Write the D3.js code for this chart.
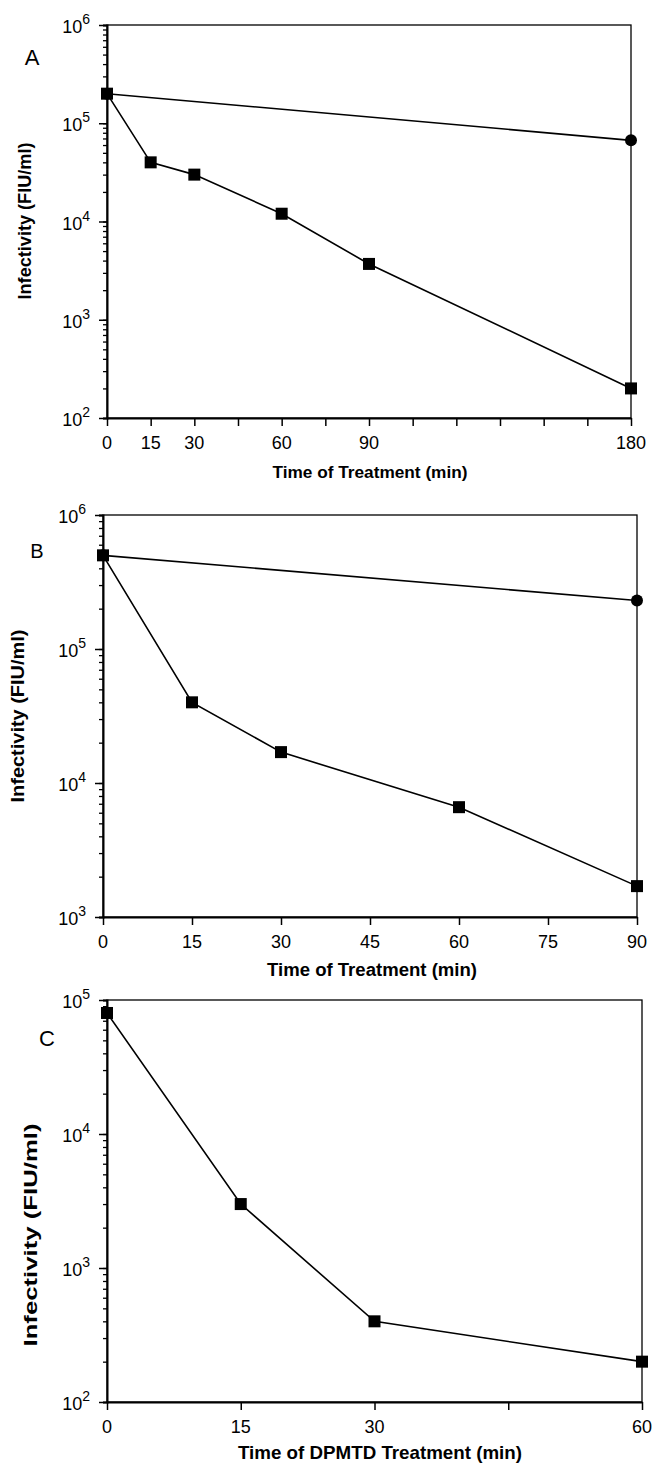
<!DOCTYPE html>
<html>
<head>
<meta charset="utf-8">
<script src="https://cdn.jsdelivr.net/npm/d3@7"></script>
<style>
  body { margin: 0; background: #fff; }
  svg { display: block; }
  text { font-family: "Liberation Sans", Arial, Helvetica, sans-serif; fill: #000; }
</style>
</head>
<body>
<svg id="chart" width="655" height="1467"></svg>
<script>
// Panel A data
const timesA = [0, 15, 30, 60, 90, 180];
const squaresA = [2e5, 4e4, 3e4, 1.2e4, 3.7e3, 200];
const circleTimesA = [0, 180];
const circlesA = [2e5, 6.7e4];
const xTicksA = [0, 15, 30, 45, 60, 75, 90, 105, 120, 135, 150, 165, 180];
const xLabelsA = [0, 15, 30, 60, 90, 180];
const yDomainA = [1e2, 1e6];

// Panel B data
const timesB = [0, 15, 30, 60, 90];
const squaresB = [5e5, 4e4, 1.7e4, 6.6e3, 1.7e3];
const circleTimesB = [0, 90];
const circlesB = [5e5, 2.3e5];
const xTicksB = [0, 15, 30, 45, 60, 75, 90];
const xLabelsB = [0, 15, 30, 45, 60, 75, 90];
const yDomainB = [1e3, 1e6];

// Panel C data
const timesC = [0, 15, 30, 60];
const squaresC = [8e4, 3e3, 400, 200];
const xTicksC = [0, 15, 30, 45, 60];
const xLabelsC = [0, 15, 30, 60];
const yDomainC = [1e2, 1e5];

const yTitle = "Infectivity (FIU/ml)";

const svg = d3.select("#chart");

function drawPanel(p) {
  const g = svg.append("g");
  const x = d3.scaleLinear().domain([0, d3.max(p.xTicks)]).range([p.left, p.right]);
  const y = d3.scaleLog().domain(p.yDomain).range([p.bottom, p.top]);

  // frame (top and right thinner)
  g.append("rect")
    .attr("x", p.left).attr("y", p.top)
    .attr("width", p.right - p.left).attr("height", p.bottom - p.top)
    .attr("fill", "none").attr("stroke", "#000").attr("stroke-width", 1.3);

  // y axis: minor then major ticks
  const allTicks = y.ticks();
  const majors = allTicks.filter(v => Math.abs(Math.log10(v) - Math.round(Math.log10(v))) < 1e-9);
  g.append("g")
    .attr("transform", `translate(${p.left},0)`)
    .call(d3.axisLeft(y).tickValues(allTicks).tickSize(4).tickFormat(""))
    .call(a => a.selectAll("line").attr("stroke-width", 1.3))
    .call(a => a.select(".domain").attr("stroke-width", 2));
  g.append("g")
    .attr("transform", `translate(${p.left},0)`)
    .call(d3.axisLeft(y).tickValues(majors).tickSize(8).tickSizeOuter(0).tickFormat(""))
    .call(a => a.selectAll("line").attr("stroke-width", 1.5))
    .call(a => a.select(".domain").remove());

  majors.forEach(v => {
    const t = g.append("text")
      .attr("x", p.left - 17).attr("y", y(v) + 8)
      .attr("text-anchor", "end")
      .attr("font-size", 18);
    t.append("tspan").text("10");
    t.append("tspan").attr("dy", -9).attr("font-size", 14).text(Math.round(Math.log10(v)));
  });

  // x axis
  g.append("g")
    .attr("transform", `translate(0,${p.bottom})`)
    .call(d3.axisBottom(x).tickValues(p.xTicks).tickSize(8).tickSizeOuter(0).tickFormat(""))
    .call(a => a.selectAll("line").attr("stroke-width", 1.5))
    .call(a => a.select(".domain").attr("stroke-width", 2));

  g.selectAll(".xlab").data(p.xLabels).join("text")
    .attr("class", "xlab")
    .attr("x", d => x(d)).attr("y", p.bottom + 31)
    .attr("text-anchor", "middle")
    .attr("font-size", 18)
    .text(d => d);

  // titles
  g.append("text")
    .attr("x", p.xTitleX).attr("y", p.bottom + p.xTitleDy)
    .attr("text-anchor", "middle")
    .attr("font-size", p.xTitleSize).attr("font-weight", "bold")
    .attr("textLength", p.xTitleLen).attr("lengthAdjust", "spacingAndGlyphs")
    .text(p.xTitle);

  g.append("text")
    .attr("transform", `translate(${p.yTitleX},${p.yTitleY}) rotate(-90)`)
    .attr("text-anchor", "middle").attr("dy", "0.35em")
    .attr("font-size", p.yTitleSize).attr("font-weight", "bold")
    .attr("textLength", p.yTitleLen).attr("lengthAdjust", "spacingAndGlyphs")
    .text(yTitle);

  g.append("text")
    .attr("x", p.labelX).attr("y", p.labelY)
    .attr("text-anchor", "middle").attr("dy", "0.35em")
    .attr("font-size", p.labelSize)
    .text(p.label);

  // lines
  const line = d3.line().x(d => x(d[0])).y(d => y(d[1]));
  if (p.circleTimes) {
    g.append("path")
      .attr("d", line(d3.zip(p.circleTimes, p.circles)))
      .attr("fill", "none").attr("stroke", "#000").attr("stroke-width", 1.6);
  }
  g.append("path")
    .attr("d", line(d3.zip(p.times, p.squares)))
    .attr("fill", "none").attr("stroke", "#000").attr("stroke-width", 1.6);

  if (p.circleTimes) {
    g.selectAll(".circ").data(d3.zip(p.circleTimes, p.circles)).join("circle")
      .attr("class", "circ")
      .attr("cx", d => x(d[0])).attr("cy", d => y(d[1])).attr("r", 6)
      .attr("fill", "#000");
  }
  g.selectAll(".sq").data(d3.zip(p.times, p.squares)).join("rect")
    .attr("class", "sq")
    .attr("x", d => x(d[0]) - 6).attr("y", d => y(d[1]) - 6)
    .attr("width", 12).attr("height", 12)
    .attr("fill", "#000");
}

drawPanel({
  left: 107, right: 631, top: 25, bottom: 418,
  times: timesA, squares: squaresA, circleTimes: circleTimesA, circles: circlesA,
  xTicks: xTicksA, xLabels: xLabelsA, yDomain: yDomainA,
  xTitle: "Time of Treatment (min)", xTitleX: 370, xTitleDy: 60, xTitleSize: 17, xTitleLen: 195,
  yTitleX: 25, yTitleY: 221, yTitleSize: 18, yTitleLen: 157,
  label: "A", labelX: 32, labelY: 57, labelSize: 22
});

drawPanel({
  left: 103, right: 637, top: 515, bottom: 917,
  times: timesB, squares: squaresB, circleTimes: circleTimesB, circles: circlesB,
  xTicks: xTicksB, xLabels: xLabelsB, yDomain: yDomainB,
  xTitle: "Time of Treatment (min)", xTitleX: 372, xTitleDy: 59, xTitleSize: 18, xTitleLen: 210,
  yTitleX: 18, yTitleY: 716, yTitleSize: 18, yTitleLen: 173,
  label: "B", labelX: 37, labelY: 551, labelSize: 20
});

drawPanel({
  left: 107, right: 642, top: 1000, bottom: 1402,
  times: timesC, squares: squaresC,
  xTicks: xTicksC, xLabels: xLabelsC, yDomain: yDomainC,
  xTitle: "Time of DPMTD Treatment (min)", xTitleX: 380, xTitleDy: 57, xTitleSize: 19, xTitleLen: 284,
  yTitleX: 30, yTitleY: 1235, yTitleSize: 19, yTitleLen: 223,
  label: "C", labelX: 47, labelY: 1038, labelSize: 22
});
</script>
</body>
</html>
